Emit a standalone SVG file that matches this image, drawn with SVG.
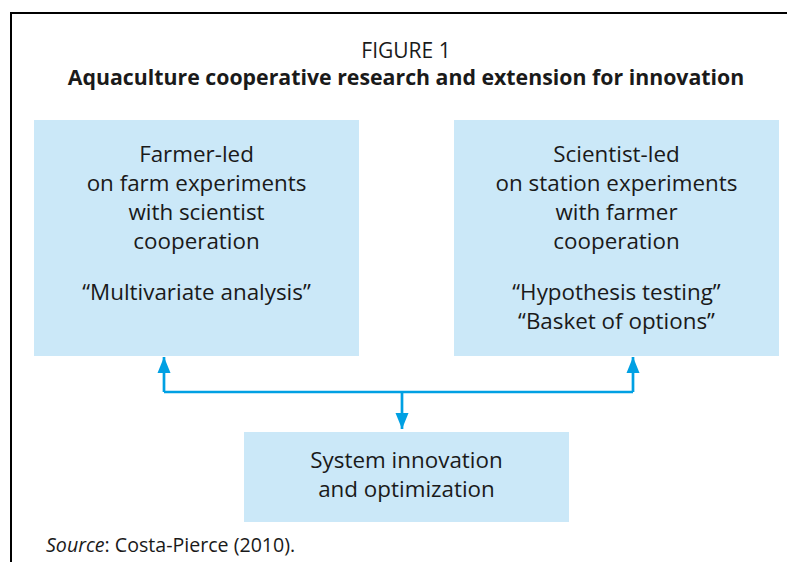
<svg xmlns="http://www.w3.org/2000/svg" width="787" height="562" viewBox="0 0 787 562">
<style>
text{font-family:"Open Sans","Noto Sans","Liberation Sans",sans-serif;fill:#1a1a1a;text-anchor:middle}
.box{fill:#cbe8f8}
.t{font-size:22.4px}
.conn{fill:none;stroke:#00a0e3;stroke-width:2.7}
</style>
<defs>
<marker id="ah" viewBox="0 0 16 14" refX="16" refY="7" markerWidth="16" markerHeight="14" markerUnits="userSpaceOnUse" orient="auto">
<path d="M0,0.5 L16,7 L0,13.5 Z" fill="#00a0e3"/>
</marker>
</defs>
<rect x="0" y="0" width="787" height="562" fill="#fff"/>
<path d="M11,562 V13 H787" fill="none" stroke="#000" stroke-width="2"/>
<text x="406" y="58" style="font-size:21px">FIGURE 1</text>
<text x="406" y="85" style="font-size:21.3px;font-weight:bold">Aquaculture cooperative research and extension for innovation</text>
<g id="farmer">
<rect class="box" x="34" y="120" width="325" height="236"/>
<text class="t" x="196.5" y="162">Farmer-led</text>
<text class="t" x="196.5" y="191">on farm experiments</text>
<text class="t" x="196.5" y="220">with scientist</text>
<text class="t" x="196.5" y="249">cooperation</text>
<text class="t" x="196.5" y="300">“Multivariate analysis”</text>
</g>
<g id="scientist">
<rect class="box" x="454" y="120" width="325" height="236"/>
<text class="t" x="616.5" y="162">Scientist-led</text>
<text class="t" x="616.5" y="191">on station experiments</text>
<text class="t" x="616.5" y="220">with farmer</text>
<text class="t" x="616.5" y="249">cooperation</text>
<text class="t" x="616.5" y="300">“Hypothesis testing”</text>
<text class="t" x="616.5" y="329">“Basket of options”</text>
</g>
<g id="system">
<rect class="box" x="244" y="432" width="325" height="90"/>
<text class="t" x="406.5" y="468">System innovation</text>
<text class="t" x="406.5" y="497">and optimization</text>
</g>
<g id="connectors">
<path class="conn" d="M164,392 H633"/>
<path class="conn" d="M164,392 V357" marker-end="url(#ah)"/>
<path class="conn" d="M633,392 V357" marker-end="url(#ah)"/>
<path class="conn" d="M402,392 V429" marker-end="url(#ah)"/>
</g>
<text x="46" y="552" style="font-size:19.6px;text-anchor:start"><tspan font-style="italic">Source</tspan>: Costa-Pierce (2010).</text>
</svg>
